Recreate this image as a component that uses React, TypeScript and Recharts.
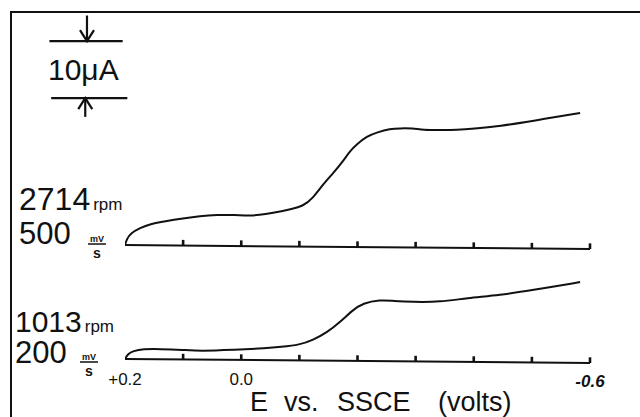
import { LineChart, Line, XAxis, YAxis, ReferenceLine } from "recharts"

// Rotating disk voltammograms: potential (V vs. SSCE) and current (µA above the trace's own baseline)
const upperPotential = [
  0.2, 0.197, 0.19, 0.174, 0.157, 0.131, 0.1, 0.071, 0.042, 0.011, -0.015, -0.041, -0.072, -0.084,
  -0.106, -0.123, -0.141, -0.158, -0.175, -0.187, -0.199, -0.216, -0.234, -0.256, -0.273, -0.295,
  -0.313, -0.342, -0.371, -0.399, -0.445, -0.502, -0.583,
]
const upperCurrent = [
  0, 1.05, 2.1, 3.0, 3.7, 4.2, 4.7, 5.1, 5.3, 5.3, 5.1, 5.4, 6.0, 6.3, 6.8, 8.2, 10.7, 12.6, 14.7,
  16.5, 17.7, 19.1, 19.8, 20.4, 20.5, 20.5, 20.2, 20.2, 20.2, 20.4, 20.9, 21.8, 23.2,
]

const lowerPotential = [
  0.2, 0.195, 0.186, 0.169, 0.14, 0.1, 0.071, 0.014, -0.044, -0.067, -0.101, -0.123, -0.148, -0.17,
  -0.192, -0.209, -0.239, -0.261, -0.295, -0.342, -0.388, -0.445, -0.502, -0.583,
]
const lowerCurrent = [
  0, 0.9, 1.4, 1.75, 1.75, 1.6, 1.4, 1.6, 1.9, 2.1, 2.5, 3.3, 4.7, 6.5, 8.6, 9.8, 10.4, 10.2, 10.0,
  10.0, 10.7, 11.2, 12.1, 13.5,
]

const rotationRpm = [2714, 1013]
const scanRateMv = [500, 200]

const tickPotentials = [0.2, 0.1, 0.0, -0.1, -0.2, -0.3, -0.4, -0.5, -0.6]
const labeledPotentials = [0.2, 0.0, -0.6]
const tickLabels = ["+0.2", "0.0", "-0.6"]

const SCALE_BAR_UA = 10

// layout
const INK = "#111"
const FONT = "'Liberation Sans', Arial, sans-serif"
const UPPER_OFFSET = 20 // µA the faster trace is lifted by
const BASE_DRIFT = -0.7 // pen baseline drift over the sweep
const TICK_H = 1.0
const Y_MAX = 56
const SCALE_TOP = 55.8
const SCALE_X = 0.2654
const SCALE_X_L = 0.327
const SCALE_X_R = 0.2

const baseAt = (v: number, offset: number) => offset + (BASE_DRIFT * (0.2 - v)) / 0.8

const upperData = upperPotential.map((v, i) => ({ v, i: upperCurrent[i] + UPPER_OFFSET }))
const lowerData = lowerPotential.map((v, i) => ({ v, i: lowerCurrent[i] }))

const Arrow = (p: any) => {
  const { x1, y1, x2, y2 } = p
  const dir = y2 > y1 ? 1 : -1
  return (
    <g stroke={INK} strokeWidth={2.2} fill="none">
      <line x1={x1} y1={y1} x2={x2} y2={y2} />
      <polyline points={`${x2 - 7},${y2 - dir * 11} ${x2},${y2} ${x2 + 7},${y2 - dir * 11}`} />
    </g>
  )
}

const PotentialTick = (props: any) => {
  const { x, y, payload } = props
  const idx = labeledPotentials.indexOf(payload.value)
  const last = idx === labeledPotentials.length - 1
  return (
    <text
      x={x}
      y={y + (last ? 2 : 0)}
      textAnchor="middle"
      fontFamily={FONT}
      fontSize={17}
      fontStyle={last ? "italic" : "normal"}
      fontWeight={last ? 700 : 400}
      fill={INK}
    >
      {tickLabels[idx]}
    </text>
  )
}

function Fraction({ x, y }: { x: number; y: number }) {
  return (
    <g fill={INK} fontFamily={FONT}>
      <text x={x} y={y - 1} fontSize={9} fontWeight={700} textAnchor="middle">
        mV
      </text>
      <line x1={x - 9} y1={y + 1} x2={x + 9} y2={y + 1} stroke={INK} strokeWidth={1.5} />
      <text x={x} y={y + 15} fontSize={14} fontWeight={700} textAnchor="middle">
        s
      </text>
    </g>
  )
}

export default function App() {
  const baselines = [UPPER_OFFSET, 0]
  return (
    <div style={{ position: "absolute", left: 0, top: 0, width: 640, height: 417, overflow: "hidden", background: "#fff" }}>
      <div
        style={{
          position: "absolute",
          left: 10,
          top: 11,
          width: 700,
          height: 500,
          borderTop: `2px solid ${INK}`,
          borderLeft: `2px solid ${INK}`,
        }}
      />
      <div style={{ position: "absolute", left: 0, top: 0 }}>
        <LineChart width={640} height={417} margin={{ top: 40, right: 50, bottom: 0, left: 125 }}>
          <XAxis
            type="number"
            dataKey="v"
            domain={[-0.6, 0.2]}
            reversed
            allowDataOverflow
            ticks={labeledPotentials}
            interval={0}
            axisLine={false}
            tickLine={false}
            tickSize={0}
            tickMargin={26}
            height={58}
            tick={PotentialTick}
          />
          <YAxis hide type="number" domain={[0, Y_MAX]} allowDataOverflow />

          {baselines.map((b) => (
            <ReferenceLine
              key={`base-${b}`}
              segment={[
                { x: 0.2, y: baseAt(0.2, b) },
                { x: -0.6, y: baseAt(-0.6, b) },
              ]}
              stroke={INK}
              strokeWidth={2}
              ifOverflow="visible"
            />
          ))}
          {baselines.flatMap((b) =>
            tickPotentials.slice(1).map((v) => (
              <ReferenceLine
                key={`tick-${b}-${v}`}
                segment={[
                  { x: v, y: baseAt(v, b) },
                  { x: v, y: baseAt(v, b) + TICK_H },
                ]}
                stroke={INK}
                strokeWidth={2.6}
                ifOverflow="visible"
              />
            ))
          )}

          {/* current scale bar */}
          <ReferenceLine
            segment={[
              { x: SCALE_X_L + 0.003, y: SCALE_TOP },
              { x: SCALE_X_R + 0.004, y: SCALE_TOP },
            ]}
            stroke={INK}
            strokeWidth={2.2}
            ifOverflow="visible"
          />
          <ReferenceLine
            segment={[
              { x: SCALE_X_L, y: SCALE_TOP - SCALE_BAR_UA },
              { x: SCALE_X_R - 0.004, y: SCALE_TOP - SCALE_BAR_UA },
            ]}
            stroke={INK}
            strokeWidth={2.2}
            ifOverflow="visible"
          />
          <ReferenceLine
            segment={[
              { x: SCALE_X, y: SCALE_TOP + 4.5 },
              { x: SCALE_X, y: SCALE_TOP },
            ]}
            shape={Arrow}
            ifOverflow="visible"
          />
          <ReferenceLine
            segment={[
              { x: SCALE_X + 0.003, y: SCALE_TOP - SCALE_BAR_UA - 3.3 },
              { x: SCALE_X + 0.003, y: SCALE_TOP - SCALE_BAR_UA },
            ]}
            shape={Arrow}
            ifOverflow="visible"
          />

          <Line
            data={upperData}
            dataKey="i"
            type="basis"
            stroke={INK}
            strokeWidth={2}
            dot={false}
            isAnimationActive={false}
          />
          <Line
            data={lowerData}
            dataKey="i"
            type="basis"
            stroke={INK}
            strokeWidth={2}
            dot={false}
            isAnimationActive={false}
          />
        </LineChart>
      </div>

      <svg width={640} height={417} style={{ position: "absolute", left: 0, top: 0, pointerEvents: "none" }}>
        <text x={48} y={80} fontFamily={FONT} fontSize={30} fill={INK}>
          10μA
        </text>

        <text x={19} y={210} fontFamily={FONT} fill={INK}>
          <tspan fontSize={32}>{rotationRpm[0]}</tspan>
          <tspan fontSize={17} dx={3}>rpm</tspan>
        </text>
        <text x={19} y={244} fontFamily={FONT} fontSize={31} fill={INK}>
          {scanRateMv[0]}
        </text>
        <Fraction x={97} y={243} />

        <text x={15} y={332} fontFamily={FONT} fill={INK}>
          <tspan fontSize={30}>{rotationRpm[1]}</tspan>
          <tspan fontSize={17} dx={3}>rpm</tspan>
        </text>
        <text x={15} y={363} fontFamily={FONT} fontSize={31} fill={INK}>
          {scanRateMv[1]}
        </text>
        <Fraction x={89} y={361} />

        <text y={411} fontFamily={FONT} fontSize={27} fill={INK}>
          <tspan x={250}>E</tspan>
          <tspan x={284}>vs.</tspan>
          <tspan x={337}>SSCE</tspan>
          <tspan x={438}>(volts)</tspan>
        </text>
      </svg>
    </div>
  )
}
